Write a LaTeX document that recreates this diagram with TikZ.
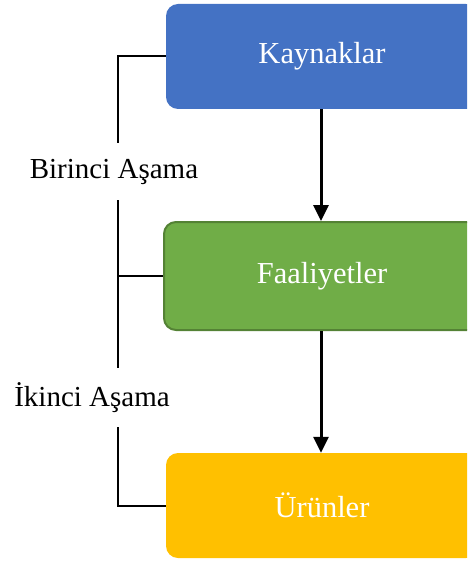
\documentclass[tikz,border=0pt]{standalone}
\usepackage{fontspec}
\setmainfont{Liberation Serif}
\usetikzlibrary{arrows.meta}
\definecolor{kblue}{HTML}{4472C4}
\definecolor{fgreen}{HTML}{70AD47}
\definecolor{fgreenb}{HTML}{548235}
\definecolor{ugold}{HTML}{FFC000}
\tikzset{
  box/.style={rectangle, rounded corners=12pt, minimum width=312pt, inner sep=0pt,
    text=white, font=\fontsize{30.5}{36}\selectfont},
  lbl/.style={inner sep=0pt, font=\fontsize{29}{34}\selectfont},
  flow/.style={line width=3pt, -{Triangle[length=16pt,width=15pt]}},
  brk/.style={line width=2pt}
}
\begin{document}
\begin{tikzpicture}[x=1pt,y=-1pt]
\useasboundingbox (0,0) rectangle (467,561);
\clip (0,0) rectangle (467,561);
\node[box, fill=kblue, minimum height=105pt] (k) at (322,56.5) {Kaynaklar};
\node[box, fill=fgreen, draw=fgreenb, line width=2pt, minimum width=316pt, minimum height=108pt] (f) at (322,276) {Faaliyetler};
\node[box, fill=ugold, minimum height=105pt] (u) at (322,505.5) {Ürünler};
\node[lbl, minimum height=57pt] (l1) at (114,171.5) {Birinci Aşama};
\node[lbl, minimum height=59pt] (l2) at (92,397.5) {İkinci Aşama};
\coordinate (c1) at (118,56.5);
\coordinate (c2) at (118,276);
\coordinate (c3) at (118,505.5);
\draw[flow] (k.south -| 321,0) -- (f.north -| 321,0);
\draw[flow] (f.south -| 321,0) -- (u.north -| 321,0);
\draw[brk] (k.west) -- (c1) -- (c1 |- l1.north);
\draw[brk] (c1 |- l1.south) -- (c1 |- l2.north);
\draw[brk] (c2) -- (f.west);
\draw[brk] (c1 |- l2.south) -- (c3) -- (u.west);
\end{tikzpicture}
\end{document}
